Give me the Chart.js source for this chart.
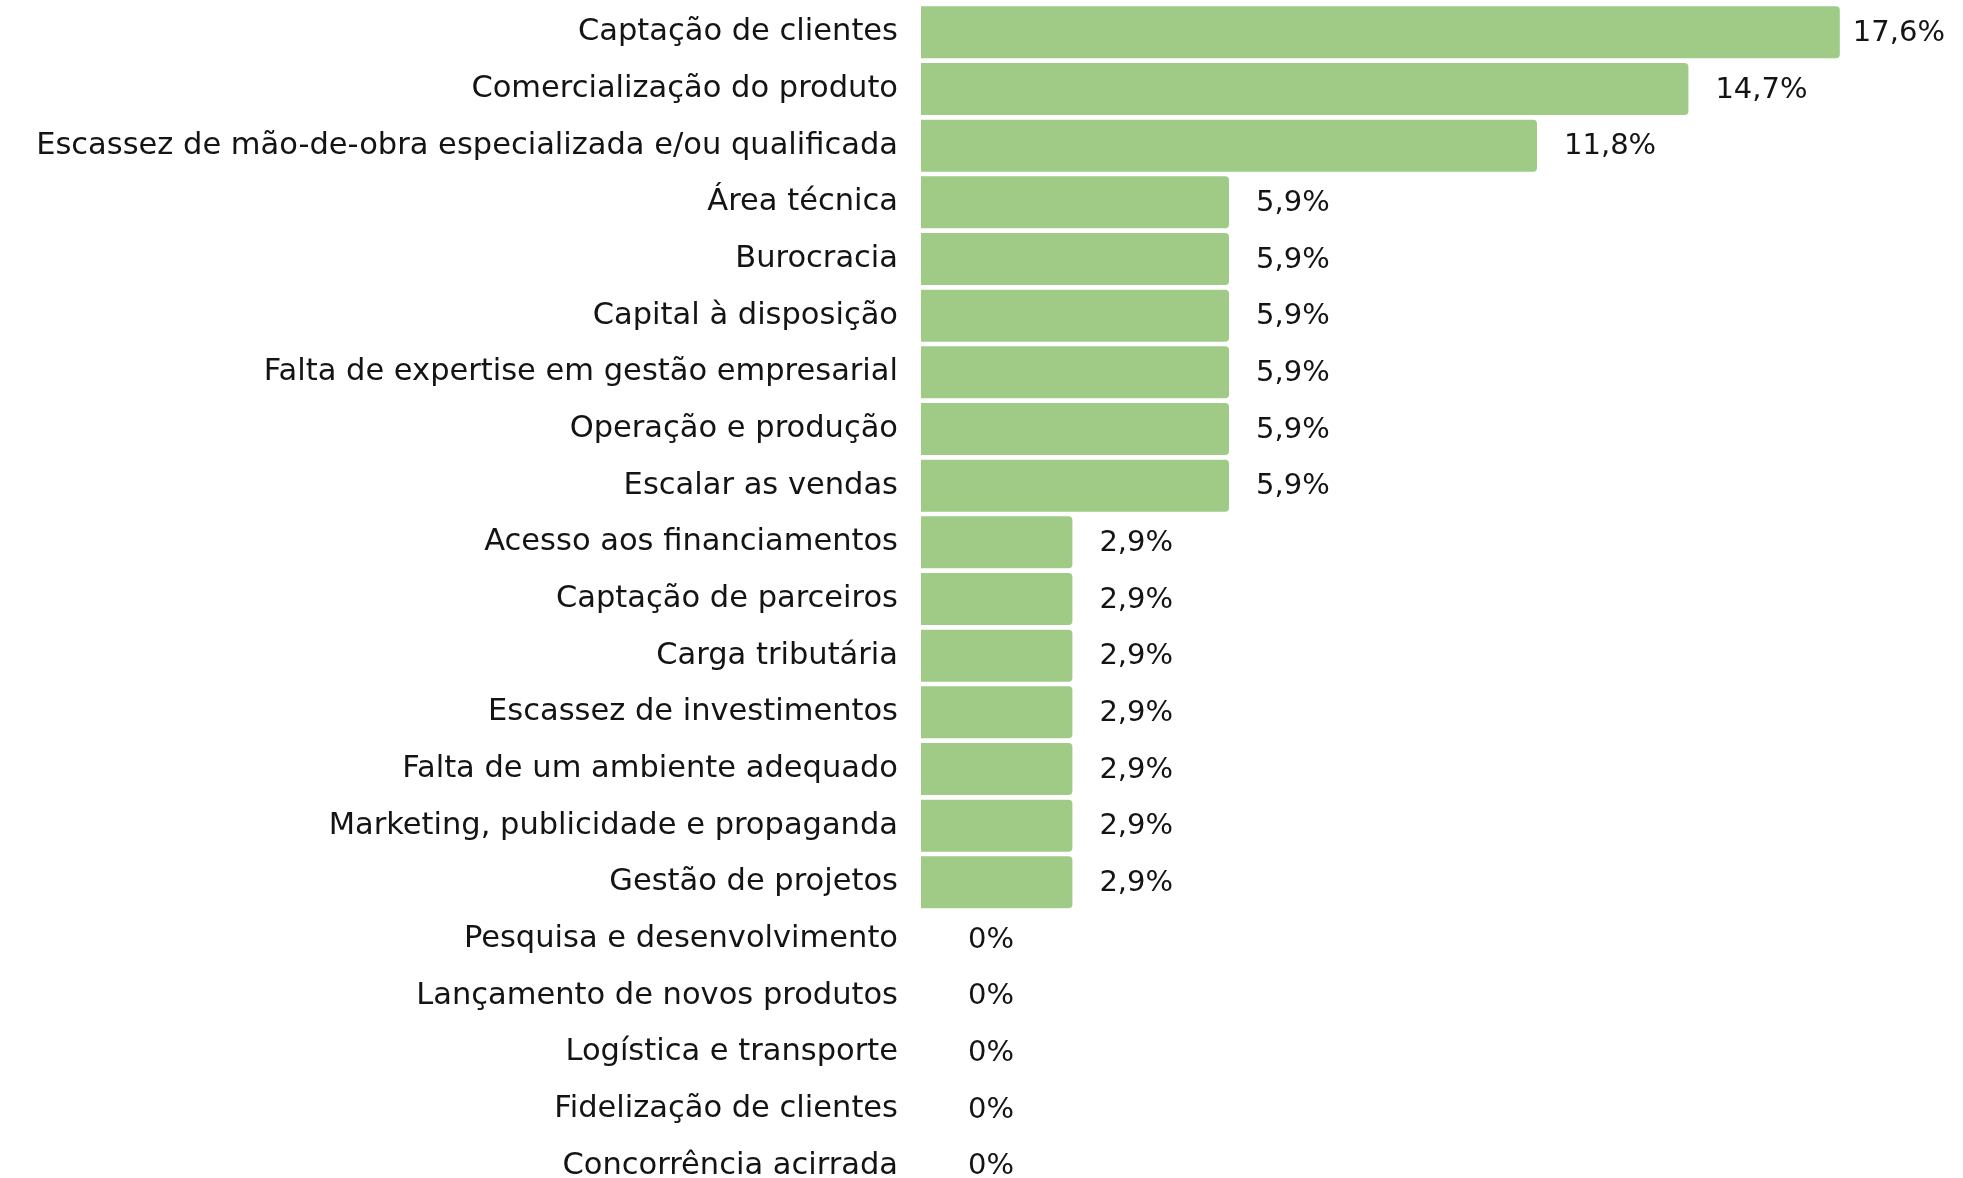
<!DOCTYPE html>
<html lang="pt-BR">
<head>
<meta charset="utf-8">
<title>Principais desafios</title>
<script src="https://cdn.jsdelivr.net/npm/chart.js@4/dist/chart.umd.min.js"></script>
<style>
  html, body { margin: 0; padding: 0; background: #ffffff; overflow: hidden; }
  #wrap { width: 1963px; height: 1195px; }
</style>
</head>
<body>
<div id="wrap"><canvas id="chart" width="1963" height="1195"></canvas></div>
<script>
// Categories (top to bottom) and their share of answers, in percent
const categories = [
  'Captação de clientes',
  'Comercialização do produto',
  'Escassez de mão-de-obra especializada e/ou qualificada',
  'Área técnica',
  'Burocracia',
  'Capital à disposição',
  'Falta de expertise em gestão empresarial',
  'Operação e produção',
  'Escalar as vendas',
  'Acesso aos financiamentos',
  'Captação de parceiros',
  'Carga tributária',
  'Escassez de investimentos',
  'Falta de um ambiente adequado',
  'Marketing, publicidade e propaganda',
  'Gestão de projetos',
  'Pesquisa e desenvolvimento',
  'Lançamento de novos produtos',
  'Logística e transporte',
  'Fidelização de clientes',
  'Concorrência acirrada'
];
const shares = [17.6, 14.7, 11.8, 5.9, 5.9, 5.9, 5.9, 5.9, 5.9, 2.9, 2.9, 2.9, 2.9, 2.9, 2.9, 2.9, 0, 0, 0, 0, 0];

const BAR_COLOR = '#9fcb86';
const TEXT_COLOR = '#141414';
const FONT = '"DejaVu Sans", sans-serif';

function formatShare(v) {
  return v === 0 ? '0%' : v.toFixed(1).replace('.', ',') + '%';
}

// Writes the percentage just past the end of every bar
const valueLabels = {
  id: 'valueLabels',
  afterDatasetsDraw(chart) {
    const ctx = chart.ctx;
    const meta = chart.getDatasetMeta(0);
    const left = chart.chartArea.left;
    const right = chart.width - 18;
    ctx.save();
    ctx.font = '29px ' + FONT;
    ctx.fillStyle = TEXT_COLOR;
    ctx.textAlign = 'left';
    ctx.textBaseline = 'middle';
    meta.data.forEach((bar, i) => {
      const text = formatShare(shares[i]);
      const w = ctx.measureText(text).width;
      const x = Math.min(Math.max(bar.x + 27, left + 47), right - w);
      ctx.fillText(text, x, bar.y + 1);
    });
    ctx.restore();
  }
};

new Chart(document.getElementById('chart'), {
  type: 'bar',
  data: {
    labels: categories,
    datasets: [{
      data: shares,
      backgroundColor: BAR_COLOR,
      borderWidth: 0,
      borderRadius: 4,
      borderSkipped: 'start',
      categoryPercentage: 1,
      barPercentage: 0.917
    }]
  },
  options: {
    indexAxis: 'y',
    responsive: false,
    animation: false,
    devicePixelRatio: 1,
    layout: { padding: { top: 4, right: 24, bottom: 1, left: 0 } },
    plugins: {
      legend: { display: false },
      tooltip: { enabled: false }
    },
    scales: {
      x: {
        display: false,
        min: 0,
        max: 19.5
      },
      y: {
        grid: { display: false, drawTicks: false },
        border: { display: false },
        afterFit(scale) {
          // fixed label column; no extra room above the first or below the last row
          scale.width = 921;
          scale.paddingTop = 0;
          scale.paddingBottom = 0;
        },
        ticks: {
          autoSkip: false,
          padding: 23,
          color: TEXT_COLOR,
          font: { family: FONT, size: 30.5 }
        }
      }
    }
  },
  plugins: [valueLabels]
});
</script>
</body>
</html>
